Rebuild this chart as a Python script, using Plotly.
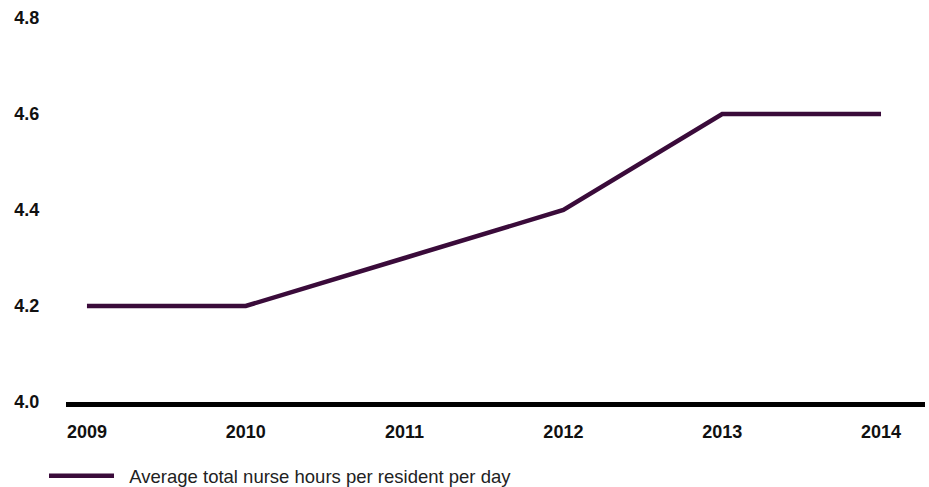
import plotly.graph_objects as go

years = [2009, 2010, 2011, 2012, 2013, 2014]
nurse_hours = [4.2, 4.2, 4.3, 4.4, 4.6, 4.6]
y_ticks = [4.0, 4.2, 4.4, 4.6, 4.8]
series_name = "Average total nurse hours per resident per day"

line_color = "#3a0b3a"
font_family = "Liberation Sans, Arial, Helvetica, sans-serif"

fig = go.Figure()
fig.add_trace(go.Scatter(
    x=years, y=nurse_hours, mode="lines",
    name="\u00a0\u00a0" + series_name,
    line=dict(color=line_color, width=4.5),
))

fig.update_layout(
    width=929, height=487,
    margin=dict(l=66, r=4, t=18, b=85, autoexpand=False),
    paper_bgcolor="white", plot_bgcolor="white",
    font=dict(family=font_family, color="#111111"),
    showlegend=True,
    legend=dict(
        orientation="h", x=-0.0256, xanchor="left", y=-0.193, yanchor="middle",
        font=dict(size=18.5, family=font_family, color="#222222"),
        itemwidth=65,
    ),
    xaxis=dict(
        tickmode="array", tickvals=years, ticktext=[str(v) for v in years],
        range=[2008.868, 2014.277],
        showgrid=False, zeroline=False,
        showline=True, linecolor="black", linewidth=5,
        ticks="outside", ticklen=9, tickcolor="rgba(0,0,0,0)",
        tickfont=dict(size=18, weight="bold", color="#111111"),
    ),
    yaxis=dict(
        tickmode="array", tickvals=y_ticks,
        ticktext=[f"{v:.1f}" for v in y_ticks],
        range=[4.0, 4.8],
        showgrid=False, zeroline=False, showline=False,
        ticks="outside", ticklen=22, tickcolor="rgba(0,0,0,0)",
        tickfont=dict(size=18, weight="bold", color="#111111"),
    ),
)

fig.write_html("out.html")
